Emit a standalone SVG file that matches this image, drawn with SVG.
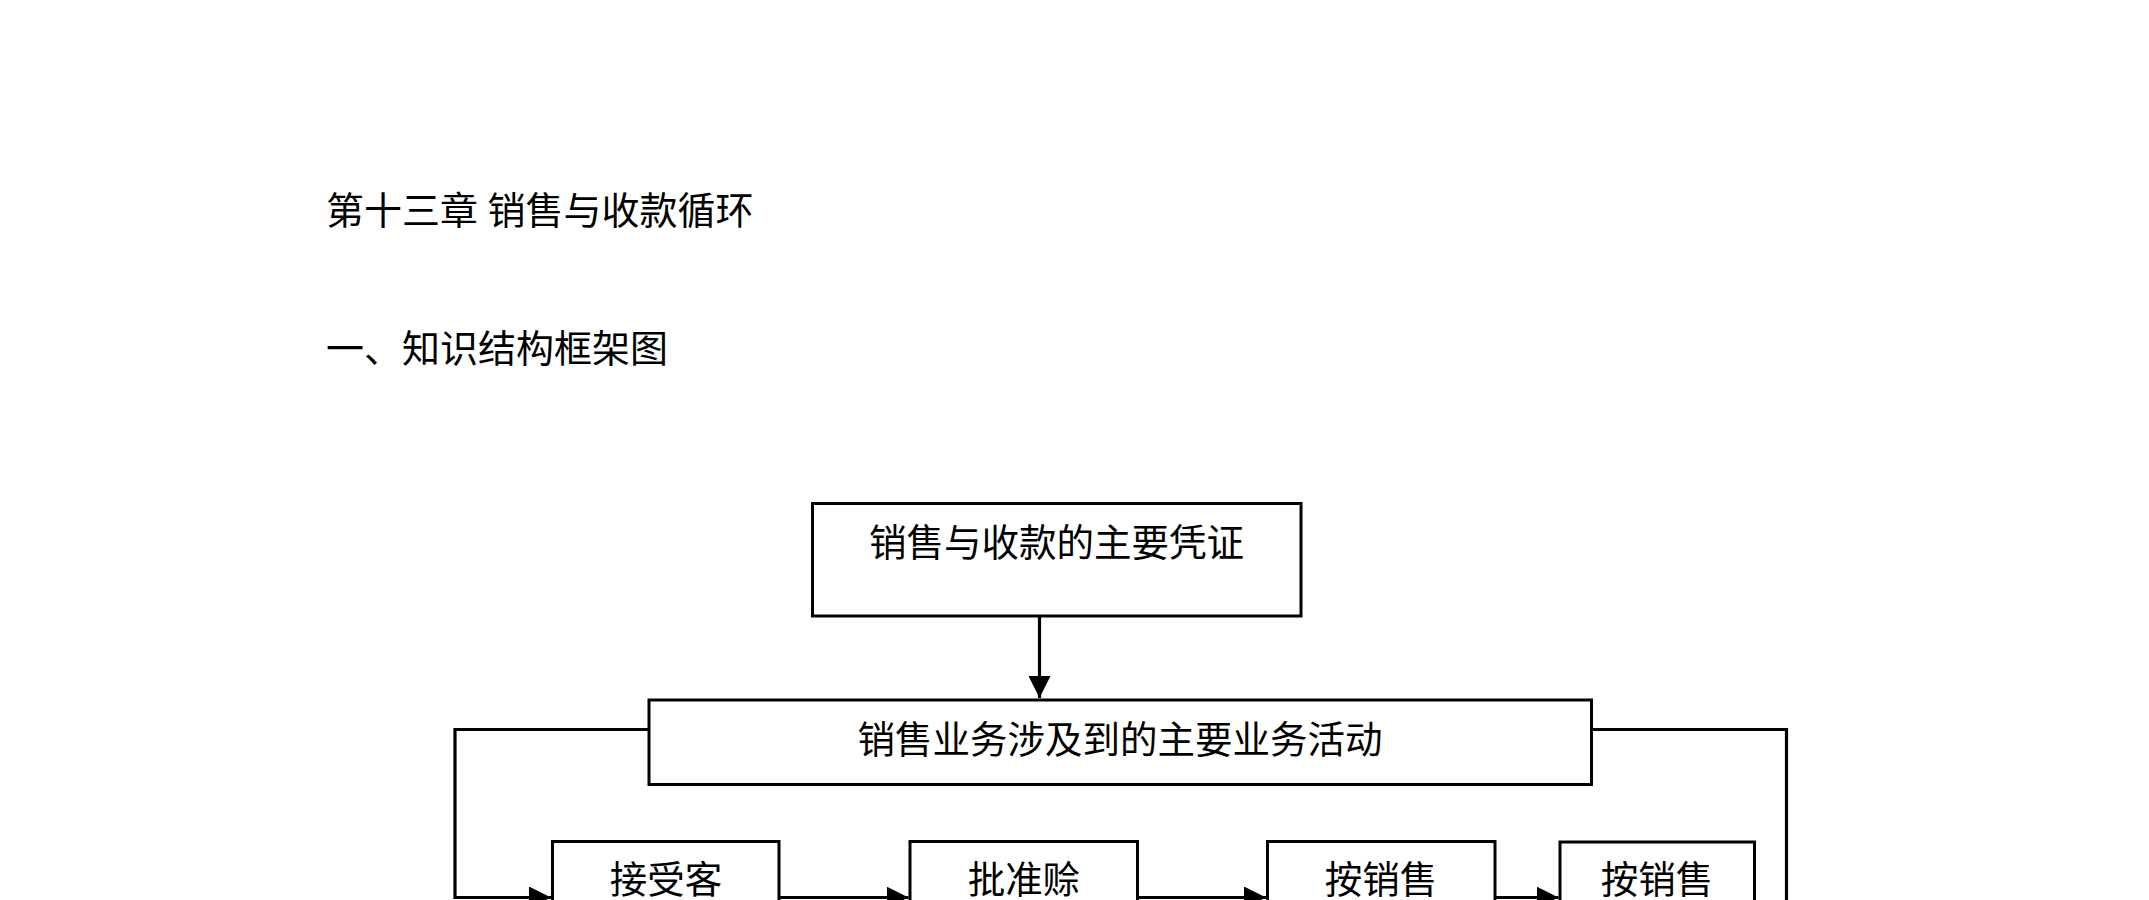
<svg xmlns="http://www.w3.org/2000/svg" width="2149" height="900" viewBox="0 0 2149 900">
<style>
.bg{fill:#ffffff}
.box{fill:#ffffff;stroke:#000000;stroke-width:3}
.con{fill:none;stroke:#000000;stroke-width:3.2}
.t{font-family:"Liberation Serif","Noto Sans CJK SC",sans-serif;font-size:37.5px;fill:#000000;text-anchor:middle}
.h{font-family:"Liberation Serif","Noto Sans CJK SC",sans-serif;font-size:38px;fill:#000000}
</style>
<defs>
<marker id="ah" markerUnits="userSpaceOnUse" markerWidth="22" markerHeight="22" refX="20" refY="10" orient="auto" viewBox="0 0 20 20">
<path d="M0,0 L20,10 L0,20 Z" fill="#000000"/>
</marker>
</defs>
<rect class="bg" x="0" y="0" width="2149" height="900"/>
<text class="h" x="326" y="224">第十三章 销售与收款循环</text>
<text class="h" x="326" y="361.5">一、知识结构框架图</text>
<g id="connectors">
<path class="con" d="M1039.5,616 V698" marker-end="url(#ah)"/>
<path class="con" d="M649,729.5 H455 V897.5 H551" marker-end="url(#ah)"/>
<path class="con" d="M1591.5,729.5 H1786.5 V920"/>
<path class="con" d="M779,897.5 H908.5" marker-end="url(#ah)"/>
<path class="con" d="M1137.5,897.5 H1266" marker-end="url(#ah)"/>
<path class="con" d="M1495,897.5 H1558.5" marker-end="url(#ah)"/>
</g>
<g id="n_pingzheng">
<rect class="box" x="812.5" y="503.5" width="488.5" height="112.5"/>
<text class="t" x="1056.5" y="555.5">销售与收款的主要凭证</text>
</g>
<g id="n_huodong">
<rect class="box" x="649" y="700" width="942.5" height="84.5"/>
<text class="t" x="1120" y="752.5">销售业务涉及到的主要业务活动</text>
</g>
<g id="n_jieshou">
<rect class="box" x="552.5" y="841.5" width="226.5" height="90"/>
<text class="t" x="666" y="893">接受客</text>
</g>
<g id="n_pizhun">
<rect class="box" x="910" y="841.5" width="227.5" height="90"/>
<text class="t" x="1024" y="893">批准赊</text>
</g>
<g id="n_anxiaoshou1">
<rect class="box" x="1267.5" y="841.5" width="227.5" height="90"/>
<text class="t" x="1381" y="893">按销售</text>
</g>
<g id="n_anxiaoshou2">
<rect class="box" x="1560" y="842" width="194.5" height="90"/>
<text class="t" x="1657" y="893">按销售</text>
</g>
</svg>
